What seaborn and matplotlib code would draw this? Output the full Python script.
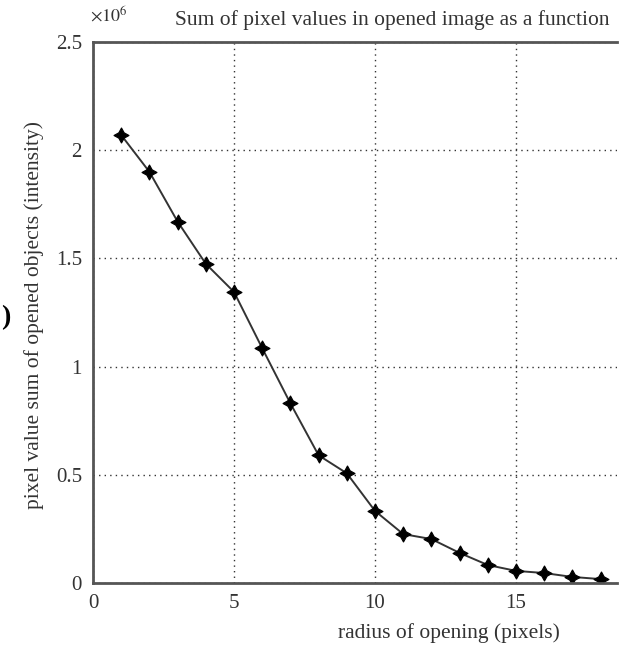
import numpy as np
import pandas as pd
import matplotlib
matplotlib.use("Agg")
import matplotlib.pyplot as plt
import seaborn as sns

# -----------------------------
# Data
# -----------------------------
radius = [1, 2, 3, 4, 5, 6, 7, 8, 9, 10, 11, 12, 13, 14, 15, 16, 17, 18]
pixel_sum_millions = [2.07, 1.90, 1.67, 1.475, 1.345, 1.085, 0.83, 0.59, 0.507,
                      0.333, 0.226, 0.203, 0.139, 0.083, 0.056, 0.046, 0.028, 0.018]
x_ticks = [0, 5, 10, 15]
y_ticks = [0, 0.5, 1, 1.5, 2, 2.5]
y_tick_labels = ["0", "0.5", "1", "1.5", "2", "2.5"]

df = pd.DataFrame({"radius": radius,
                   "pixel_sum": np.array(pixel_sum_millions) * 1e6})

# -----------------------------
# Style
# -----------------------------
sns.set_style("white")
plt.rcParams["font.family"] = ["Liberation Serif", "DejaVu Serif"]
plt.rcParams["mathtext.fontset"] = "stix"

fig = plt.figure(figsize=(6.35, 6.46), dpi=100)
ax = fig.add_axes([93 / 635, 63 / 646, 524 / 635, 541 / 646])

sns.lineplot(data=df, x="radius", y="pixel_sum", ax=ax,
             color="#333333", linewidth=1.4,
             marker=(4, 1, 0), markersize=11,
             markerfacecolor="black", markeredgecolor="black")

ax.set_xlim(0, 18.58)
ax.set_ylim(0, 2.5e6)
ax.set_xticks(x_ticks)
ax.set_xticklabels([str(t) for t in x_ticks])
ax.set_yticks([v * 1e6 for v in y_ticks])
ax.set_yticklabels(y_tick_labels)
ax.tick_params(direction="in", length=5, width=1.2, colors="#333333",
               labelsize=15, labelcolor="#333333", pad=8)

ax.grid(True, linestyle=(0, (1, 3)), color="#333333", linewidth=1.0)

for side in ["left", "bottom", "top"]:
    ax.spines[side].set_color("#555555")
    ax.spines[side].set_linewidth(2.0)
ax.spines["right"].set_visible(False)

ax.set_xlabel("")
ax.set_ylabel("")

# texts
fig.text(175 / 635, 1 - 20 / 646, "Sum of pixel values in opened image as a function",
         ha="left", va="center", fontsize=15.5, color="#333333")
fig.text(90 / 635, 1 - 15 / 646, r"$\times10^6$", ha="left", va="center",
         fontsize=13, color="#333333")
fig.text(449 / 635, 1 - 633 / 646, "radius of opening (pixels)",
         ha="center", va="center", fontsize=15.5, color="#333333")
fig.text(34 / 635, 1 - 315 / 646, "pixel value sum of opened objects (intensity)",
         ha="center", va="center", rotation=90, fontsize=15.5, color="#333333")
fig.text(1 / 635, 1 - 318 / 646, ")", ha="left", va="center",
         fontsize=20, fontweight="bold", color="black")

fig.savefig("out.png", dpi=100)
